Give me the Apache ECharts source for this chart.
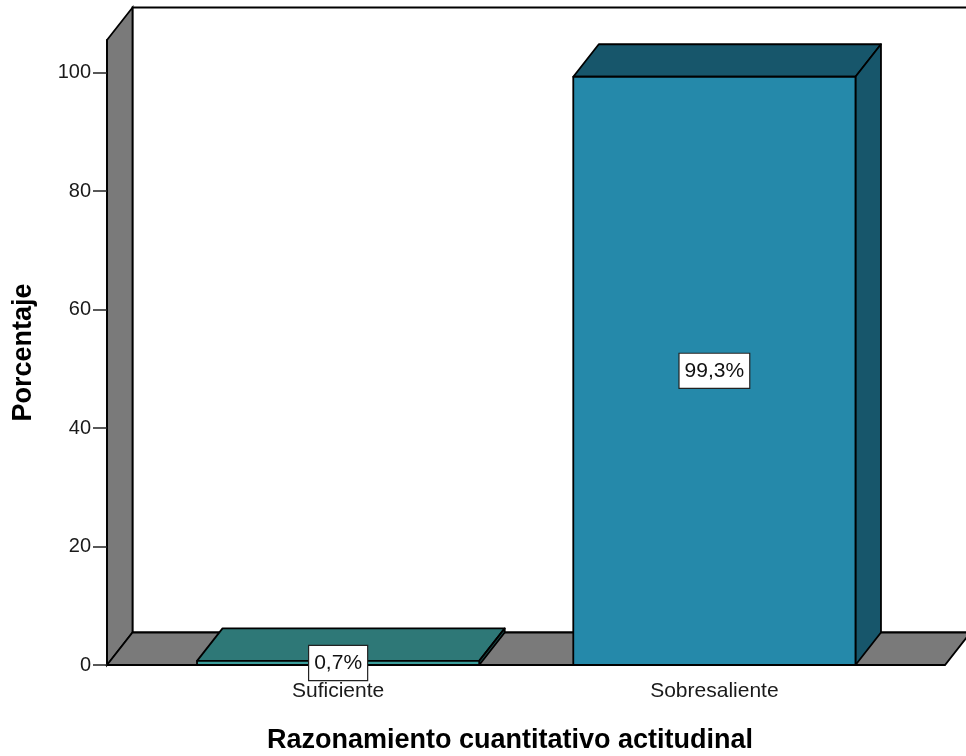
<!DOCTYPE html>
<html>
<head>
<meta charset="utf-8">
<script src="https://cdn.jsdelivr.net/npm/echarts@6/dist/echarts.min.js"></script>
<style>
  html, body { margin: 0; padding: 0; background: #fff; }
  #chart { width: 966px; height: 756px; }
</style>
</head>
<body>
<div id="chart"></div>
<script>
// Razonamiento cuantitativo actitudinal: percentage per level
const categories = ['Suficiente', 'Sobresaliente'];
const percentages = [0.7, 99.3];
const yTicks = [0, 20, 40, 60, 80, 100];
const yMax = 105.5;

// Face colours for each bar: [front, top, side]
const barFaces = [
  ['#3a9d9b', '#2e7877', '#1d4f4e'],
  ['#2589aa', '#17566b', '#17566b']
];
const WALL = '#7a7a7a';
const EDGE = '#000';
const EDGE_W = 1.8;
const DEPTH_X = 25.5;
const DEPTH_Y = -32.5;
const FONT = '"Liberation Sans", Arial, sans-serif';

function fmtPct(v) {
  return v.toFixed(1).replace('.', ',') + '%';
}

// Back wall, side wall and floor of the 3D frame
function renderFrame(params, api) {
  const p00 = api.coord([0, 0]);
  const p01 = api.coord([0, yMax]);
  const p10 = api.coord([1, 0]);
  return {
    type: 'group',
    children: [
      // back wall
      {
        type: 'polygon',
        shape: { points: [
          [p01[0] + DEPTH_X, p01[1] + DEPTH_Y],
          [p10[0] + DEPTH_X + 40, p01[1] + DEPTH_Y],
          [p10[0] + DEPTH_X + 40, p00[1] + DEPTH_Y],
          [p00[0] + DEPTH_X, p00[1] + DEPTH_Y]
        ] },
        style: { fill: '#fff', stroke: EDGE, lineWidth: EDGE_W }
      },
      // left wall
      {
        type: 'polygon',
        shape: { points: [
          [p00[0], p00[1]],
          [p01[0], p01[1]],
          [p01[0] + DEPTH_X, p01[1] + DEPTH_Y],
          [p00[0] + DEPTH_X, p00[1] + DEPTH_Y]
        ] },
        style: { fill: WALL, stroke: EDGE, lineWidth: EDGE_W }
      },
      // floor
      {
        type: 'polygon',
        shape: { points: [
          [p00[0], p00[1]],
          [p10[0], p10[1]],
          [p10[0] + DEPTH_X, p10[1] + DEPTH_Y],
          [p00[0] + DEPTH_X, p00[1] + DEPTH_Y]
        ] },
        style: { fill: WALL, stroke: EDGE, lineWidth: EDGE_W }
      }
    ]
  };
}

// 3D bar: front face, top face, right side face and a value label
function renderBar(params, api) {
  const idx = api.value(0);
  const val = api.value(1);
  const base = api.coord([idx, 0]);
  const top = api.coord([idx, val]);
  const w = api.size([1, 0])[0] * 0.75;
  const x0 = base[0] - w / 2;
  const x1 = base[0] + w / 2;
  const y0 = base[1];
  const y1 = top[1];
  const faces = barFaces[idx];
  const edge = { stroke: EDGE, lineWidth: EDGE_W, lineJoin: 'round' };
  return {
    type: 'group',
    children: [
      {
        type: 'polygon',
        shape: { points: [[x0, y1], [x1, y1], [x1 + DEPTH_X, y1 + DEPTH_Y], [x0 + DEPTH_X, y1 + DEPTH_Y]] },
        style: Object.assign({ fill: faces[1] }, edge)
      },
      {
        type: 'polygon',
        shape: { points: [[x1, y1], [x1, y0], [x1 + DEPTH_X, y0 + DEPTH_Y], [x1 + DEPTH_X, y1 + DEPTH_Y]] },
        style: Object.assign({ fill: faces[2] }, edge)
      },
      {
        type: 'rect',
        shape: { x: x0, y: y1, width: w, height: y0 - y1 },
        style: Object.assign({ fill: faces[0] }, edge)
      },
      {
        type: 'text',
        style: {
          text: fmtPct(val),
          x: base[0],
          y: (y0 + y1) / 2,
          align: 'center',
          verticalAlign: 'middle',
          font: '21px ' + FONT,
          fill: '#111',
          backgroundColor: '#fff',
          borderColor: '#222',
          borderWidth: 1.2,
          padding: [7, 5, 6, 5]
        }
      }
    ]
  };
}

const chart = echarts.init(document.getElementById('chart'), null, { renderer: 'canvas' });

chart.setOption({
  animation: false,
  backgroundColor: '#fff',
  title: {
    text: 'Razonamiento cuantitativo actitudinal',
    left: 510,
    top: 727,
    textAlign: 'center',
    padding: 0,
    textStyle: { fontFamily: FONT, fontSize: 27, fontWeight: 'bold', color: '#000' }
  },
  grid: [
    { left: 107, right: 21, top: 40, bottom: 91 },
    { left: 150, right: 63.5, top: 40, bottom: 91 }
  ],
  xAxis: [
    { gridIndex: 0, type: 'value', min: 0, max: 1, show: false },
    {
      gridIndex: 1,
      type: 'category',
      data: categories,
      axisLine: { show: false },
      axisTick: { show: false },
      axisLabel: { margin: 16, fontFamily: FONT, fontSize: 21, color: '#1a1a1a' }
    }
  ],
  yAxis: [
    {
      gridIndex: 0,
      type: 'value',
      min: 0,
      max: yMax,
      splitLine: { show: false },
      axisLine: { show: true, lineStyle: { color: EDGE, width: EDGE_W } },
      axisTick: { show: true, length: 14, customValues: yTicks, lineStyle: { color: '#222', width: 1.5 } },
      axisLabel: { margin: 16, customValues: yTicks, fontFamily: FONT, fontSize: 20, color: '#1a1a1a' },
      name: 'Porcentaje',
      nameLocation: 'middle',
      nameGap: 70,
      nameTextStyle: { fontFamily: FONT, fontSize: 27, fontWeight: 'bold', color: '#000' },
      z: 5
    },
    { gridIndex: 1, type: 'value', min: 0, max: yMax, show: false }
  ],
  series: [
    {
      type: 'custom',
      xAxisIndex: 0,
      yAxisIndex: 0,
      data: [[0]],
      renderItem: renderFrame,
      silent: true,
      clip: false,
      z: 1
    },
    {
      type: 'custom',
      xAxisIndex: 1,
      yAxisIndex: 1,
      data: percentages.map((v, i) => [i, v]),
      renderItem: renderBar,
      clip: false,
      z: 3
    }
  ]
});
</script>
</body>
</html>
